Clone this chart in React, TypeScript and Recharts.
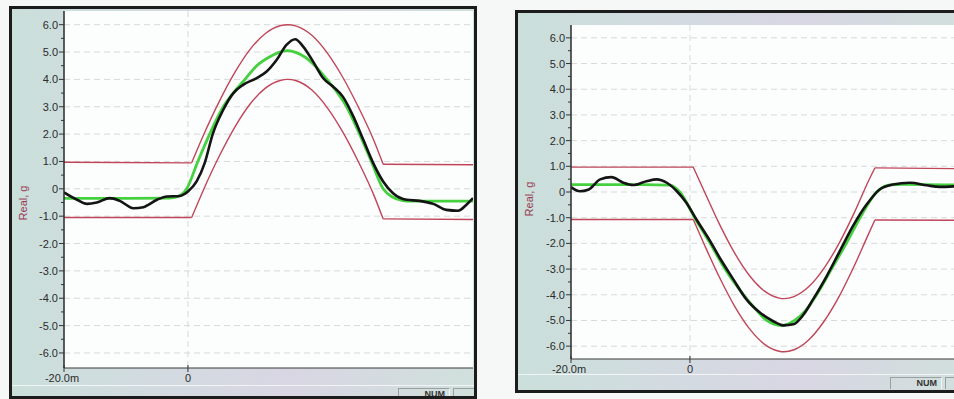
import React from 'react';
import { LineChart, Line, XAxis, YAxis, CartesianGrid } from 'recharts';

// ---- left panel (positive pulse) ----
const leftBlackT = [-20, -17.9, -16.3, -14.7, -12.6, -11, -8.8, -7.2, -5, -3.4, -1.3, 0, 1.4, 2.7, 4, 5.7, 7.3, 8.9, 11.1, 12.7, 14.3, 15.9, 17.3, 18.6, 20.2, 21.8, 23.4, 25, 26.7, 28.3, 29.9, 31.5, 33.1, 35.3, 37.4, 39.6, 41.7, 43.6, 44.9, 46];
const leftBlackV = [-0.13, -0.4, -0.55, -0.5, -0.34, -0.44, -0.71, -0.67, -0.4, -0.28, -0.26, -0.1, 0.27, 0.94, 2.0, 2.89, 3.49, 3.8, 4.05, 4.29, 4.71, 5.26, 5.47, 5.2, 4.65, 4.05, 3.74, 3.37, 2.64, 1.79, 0.94, 0.27, -0.16, -0.4, -0.44, -0.55, -0.77, -0.8, -0.59, -0.34];

const leftGreenT = [-20, -10, -3, -1.8, -0.2, 1.6, 3.5, 5.7, 7.5, 9.2, 11.1, 13, 14.5, 16, 17.5, 19, 20.5, 22.4, 24, 25.6, 27.7, 29.6, 31.5, 33, 34.5, 36, 46];
const leftGreenV = [-0.35, -0.35, -0.34, -0.3, 0.0, 1.0, 2.0, 3.0, 3.55, 4.0, 4.5, 4.8, 4.97, 5.05, 4.98, 4.8, 4.5, 4.0, 3.55, 3.0, 2.0, 1.0, 0.0, -0.3, -0.42, -0.45, -0.45];

const leftEnvT = [-20, 0.6, 2.5, 5, 7.5, 10, 12.5, 15, 16.05, 17.5, 20, 22.5, 25, 27.5, 30, 31.5, 46];
const leftUpperV = [0.97, 0.95, 1.96, 3.17, 4.23, 5.09, 5.68, 5.97, 6.0, 5.95, 5.61, 4.96, 4.07, 2.99, 1.77, 0.9, 0.88];
const leftLowerV = [-1.05, -1.05, -0.04, 1.17, 2.23, 3.09, 3.68, 3.97, 4.0, 3.95, 3.61, 2.96, 2.07, 0.99, -0.23, -1.1, -1.12];

// ---- right panel (negative pulse) ----
const rightBlackT = [-20, -18.5, -17.1, -15.1, -13.2, -11.2, -9.6, -7.3, -5.6, -3.9, -2.2, -0.6, 1.1, 3.4, 5.0, 7.3, 9.5, 11.8, 14.0, 15.7, 17.4, 19.1, 20.7, 23.0, 25.2, 27.4, 29.7, 31.9, 34.1, 37.0, 39.8, 42.0, 44.4];
const rightBlackV = [0.19, 0.03, 0.09, 0.49, 0.58, 0.36, 0.27, 0.42, 0.49, 0.36, 0.03, -0.42, -1.07, -1.91, -2.56, -3.4, -4.18, -4.7, -5.03, -5.19, -5.15, -4.77, -4.18, -3.27, -2.3, -1.33, -0.49, 0.1, 0.29, 0.36, 0.26, 0.2, 0.22];

const rightGreenT = [-20, -8, -3.4, -1.7, 0.8, 3.4, 5.9, 9.0, 11, 12.9, 15.4, 17.6, 19.5, 21.3, 23.8, 26.3, 28.6, 31.4, 33.6, 36, 44.4];
const rightGreenV = [0.29, 0.29, 0.27, 0.0, -1.0, -2.0, -3.0, -4.0, -4.55, -5.0, -5.2, -5.0, -4.6, -4.0, -3.0, -2.0, -1.0, 0.0, 0.28, 0.3, 0.28];

const rightEnvT = [-20, 0.56, 2.5, 5, 7.5, 10, 12.5, 15, 15.83, 17.5, 20, 22.5, 25, 27.5, 30, 31.1, 44.4];
const rightUpperV = [0.97, 0.97, -0.02, -1.27, -2.37, -3.25, -3.85, -4.13, -4.15, -4.07, -3.68, -2.98, -2.03, -0.87, 0.42, 0.94, 0.91];
const rightLowerV = [-1.07, -1.07, -2.09, -3.34, -4.44, -5.32, -5.92, -6.2, -6.22, -6.14, -5.75, -5.05, -4.1, -2.94, -1.65, -1.09, -1.1];

// ---- axes ----
const yMajorTicks = [-6, -5, -4, -3, -2, -1, 0, 1, 2, 3, 4, 5, 6];
const yMinorTicks = [-5.5, -4.5, -3.5, -2.5, -1.5, -0.5, 0.5, 1.5, 2.5, 3.5, 4.5, 5.5];
const xTicks = [-20, 0];
const xTickLabels = ['-20.0m', '0'];
const yLabel = 'Real, g';

const FONT = '"Liberation Sans", Arial, sans-serif';
const RED = '#c0465a';
const GREEN = '#45d13f';
const BLACK = '#141414';

const zip = (t: number[], v: number[]) => t.map((x, i) => ({ t: x, v: v[i] }));

function YTick(props: any) {
  const { x, y, payload } = props;
  const v = payload.value;
  const major = Number.isInteger(v);
  return (
    <g>
      <line x1={x - (major ? 5 : 3)} x2={x} y1={y} y2={y} stroke="#333" strokeWidth={1} />
      {major && (
        <text x={x - 6} y={y} dy={4} textAnchor="end" fontSize={11} fill="#2b2b2b" fontFamily={FONT}>
          {v === 0 ? '0' : v.toFixed(1)}
        </text>
      )}
    </g>
  );
}

function XTick(props: any) {
  const { x, y, payload } = props;
  const label = xTickLabels[xTicks.indexOf(payload.value)];
  return (
    <g>
      <line x1={x} x2={x} y1={y - 3} y2={y + 4} stroke="#333" strokeWidth={1} />
      <text x={x - (label.length > 1 ? 2 : 0)} y={y + 14} textAnchor="middle" fontSize={11} fill="#2b2b2b" fontFamily={FONT}>
        {label}
      </text>
    </g>
  );
}

interface PanelProps {
  left: number;
  top: number;
  width: number;
  height: number;
  chartW: number;
  chartH: number;
  margin: { top: number; right: number; left: number; bottom: number };
  yWidth: number;
  xDomain: [number, number];
  yDomain: [number, number];
  black: { t: number[]; v: number[] };
  green: { t: number[]; v: number[] };
  envT: number[];
  upper: number[];
  lower: number[];
  labelPos: [number, number];
  numPos: [number, number];
  statusTop: number;
}

function Panel(p: PanelProps) {
  const n = p.envT.length;
  const envLines = [p.upper, p.lower].flatMap((vals, k) => [
    <Line key={`p${k}`} data={zip(p.envT.slice(1, n - 1), vals.slice(1, n - 1))} dataKey="v" type="monotone"
      stroke={RED} strokeWidth={1.4} dot={false} isAnimationActive={false} />,
    <Line key={`a${k}`} data={zip(p.envT.slice(0, 2), vals.slice(0, 2))} dataKey="v" type="linear"
      stroke={RED} strokeWidth={1.4} dot={false} isAnimationActive={false} />,
    <Line key={`b${k}`} data={zip(p.envT.slice(n - 2), vals.slice(n - 2))} dataKey="v" type="linear"
      stroke={RED} strokeWidth={1.4} dot={false} isAnimationActive={false} />,
  ]);
  return (
    <div
      style={{
        position: 'absolute',
        left: p.left,
        top: p.top,
        width: p.width,
        height: p.height,
        boxSizing: 'border-box',
        border: '3px solid #1c1c1c',
        overflow: 'hidden',
        background: 'linear-gradient(90deg, #cadfda 0%, #d2dbe0 30%, #d8d6e3 60%, #d0e0dc 100%)',
      }}
    >
      <div style={{ position: 'absolute', left: 0, right: 0, top: p.statusTop, height: 1, background: 'rgba(255,255,255,0.7)' }} />
      <LineChart width={p.chartW} height={p.chartH} margin={p.margin} style={{ position: 'absolute', left: 0, top: 0 }}>
        <CartesianGrid
          fill="#fcfdfd"
          stroke="#d6dada"
          strokeDasharray="6 4"
          horizontalValues={yMajorTicks}
          verticalValues={[0]}
        />
        <XAxis
          dataKey="t"
          type="number"
          domain={p.xDomain}
          ticks={xTicks}
          interval={0}
          allowDataOverflow
          height={20}
          tickSize={0}
          tickMargin={0}
          tickLine={false}
          axisLine={{ stroke: '#3a3a3a', strokeWidth: 1.2 }}
          tick={<XTick />}
        />
        <YAxis
          type="number"
          domain={p.yDomain}
          ticks={[...yMajorTicks, ...yMinorTicks].sort((a, b) => a - b)}
          interval={0}
          allowDataOverflow
          width={p.yWidth}
          tickSize={0}
          tickMargin={0}
          tickLine={false}
          axisLine={{ stroke: '#2a2a2a', strokeWidth: 1.5 }}
          tick={<YTick />}
        />
        {envLines}
        <Line data={zip(p.green.t, p.green.v)} dataKey="v" type="monotone" stroke={GREEN} strokeWidth={2.8}
          dot={false} isAnimationActive={false} />
        <Line data={zip(p.black.t, p.black.v)} dataKey="v" type="monotone" stroke={BLACK} strokeWidth={2.6}
          dot={false} isAnimationActive={false} />
      </LineChart>
      <div
        style={{
          position: 'absolute',
          left: p.labelPos[0],
          top: p.labelPos[1],
          transform: 'translate(-50%, -50%) rotate(-90deg)',
          whiteSpace: 'nowrap',
          fontFamily: FONT,
          fontSize: 11,
          color: '#9b3b55',
        }}
      >
        {yLabel}
      </div>
      <div
        style={{
          position: 'absolute',
          left: p.numPos[0],
          top: p.numPos[1],
          width: 52,
          height: 12,
          boxSizing: 'border-box',
          borderTop: '1px solid #9aa0a0',
          borderLeft: '1px solid #9aa0a0',
          borderRight: '1px solid #f4f4f4',
          fontFamily: FONT,
          fontSize: 9,
          fontWeight: 'bold',
          color: '#333',
          textAlign: 'right',
          paddingRight: 4,
          lineHeight: '11px',
        }}
      >
        NUM
      </div>
      <div
        style={{
          position: 'absolute',
          left: p.numPos[0] + 55,
          top: p.numPos[1],
          width: 40,
          height: 12,
          boxSizing: 'border-box',
          borderTop: '1px solid #9aa0a0',
          borderLeft: '1px solid #9aa0a0',
        }}
      />
    </div>
  );
}

export default function App() {
  return (
    <div style={{ position: 'absolute', left: 0, top: 0, width: 954, height: 399, overflow: 'hidden', background: '#f6f8f7' }}>
      <Panel
        left={9}
        top={6}
        width={468}
        height={393}
        chartW={462}
        chartH={387}
        margin={{ top: 2, right: 1, left: 0, bottom: 8 }}
        yWidth={52}
        xDomain={[-20, 46]}
        yDomain={[-6.55, 6.5]}
        black={{ t: leftBlackT, v: leftBlackV }}
        green={{ t: leftGreenT, v: leftGreenV }}
        envT={leftEnvT}
        upper={leftUpperV}
        lower={leftLowerV}
        labelPos={[11, 194]}
        numPos={[386, 379]}
        statusTop={376}
      />
      <Panel
        left={515}
        top={10}
        width={470}
        height={383}
        chartW={436}
        chartH={377}
        margin={{ top: 12, right: 0, left: 0, bottom: 11 }}
        yWidth={53}
        xDomain={[-20, 44.4]}
        yDomain={[-6.5, 6.5]}
        black={{ t: rightBlackT, v: rightBlackV }}
        green={{ t: rightGreenT, v: rightGreenV }}
        envT={rightEnvT}
        upper={rightUpperV}
        lower={rightLowerV}
        labelPos={[11, 186]}
        numPos={[372, 364]}
        statusTop={361}
      />
    </div>
  );
}
